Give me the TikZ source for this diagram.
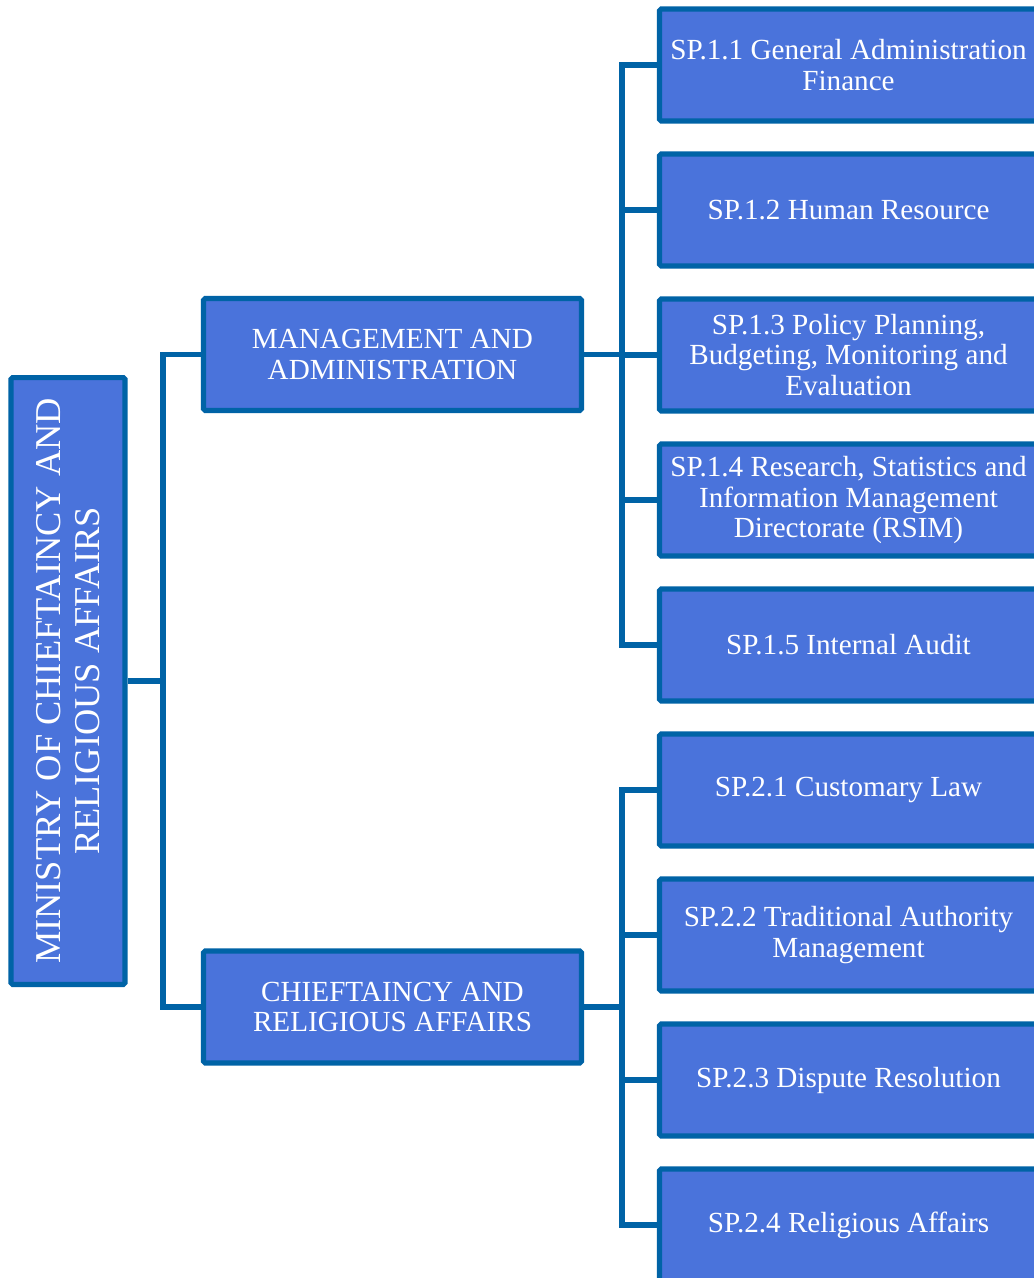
\documentclass[tikz,border=0pt]{standalone}
\usepackage{fontspec}
\setmainfont{Liberation Serif}
\usepackage{tikz}
\usetikzlibrary{positioning}

\definecolor{boxfill}{HTML}{4A73DB}
\definecolor{boxline}{HTML}{0063A6}

\begin{document}
\begin{tikzpicture}[
  x=0.02cm, y=-0.02cm,
  unit/.style={draw=boxline, fill=boxfill, line width=2.9pt, rounded corners=1pt,
               minimum width=7.56cm, minimum height=2.24cm,
               align=center, text=white, inner sep=2pt,
               font=\fontsize{16.6}{17.6}\selectfont},
  rootbox/.style={unit, rotate=90, minimum width=12.14cm, minimum height=2.28cm,
               font=\fontsize{20.7}{21.9}\selectfont},
  link/.style={draw=boxline, line width=2.9pt},
]
  \useasboundingbox (0,0) rectangle (1034,1278);
  \clip (0,0) rectangle (1034,1278);

  %% Ministry — left, rotated
  \node[rootbox] (min) at (68,681) {MINISTRY OF CHIEFTAINCY AND\\RELIGIOUS AFFAIRS};

  %% Programmes — middle column
  \node[unit] (mgt) at (392.5,354.5) {MANAGEMENT AND\\ADMINISTRATION};
  \node[unit] (chf) at (392.5,1007)  {CHIEFTAINCY AND\\RELIGIOUS AFFAIRS};

  %% Sub-programmes under Management and Administration
  \node[unit] (sp11) at (848.5,65)  {SP.1.1 General Administration\\Finance};
  \node[unit] (sp12) at (848.5,210) {SP.1.2 Human Resource};
  \node[unit] (sp13) at (848.5,355) {SP.1.3 Policy Planning,\\Budgeting, Monitoring and\\Evaluation};
  \node[unit] (sp14) at (848.5,500) {SP.1.4 Research, Statistics and\\Information Management\\Directorate (RSIM)};
  \node[unit] (sp15) at (848.5,645) {SP.1.5 Internal Audit};

  %% Sub-programmes under Chieftaincy and Religious Affairs
  \node[unit] (sp21) at (848.5,790)  {SP.2.1 Customary Law};
  \node[unit] (sp22) at (848.5,935)  {SP.2.2 Traditional Authority\\Management};
  \node[unit] (sp23) at (848.5,1080) {SP.2.3 Dispute Resolution};
  \node[unit] (sp24) at (848.5,1225) {SP.2.4 Religious Affairs};

  %% Elbow connectors
  \coordinate (busa) at (163,681);
  \coordinate (busb) at (622,354.5);
  \coordinate (busc) at (622,1007);

  \draw[link] (min.south) -- (busa);
  \draw[link] (mgt.west) -| (busa) |- (chf.west);

  \draw[link] (mgt.east) -- (busb);
  \foreach \n in {sp11,sp12,sp13,sp14,sp15}
    \draw[link] (busb) |- (\n.west);

  \draw[link] (chf.east) -- (busc);
  \foreach \n in {sp21,sp22,sp23,sp24}
    \draw[link] (busc) |- (\n.west);
\end{tikzpicture}
\end{document}
